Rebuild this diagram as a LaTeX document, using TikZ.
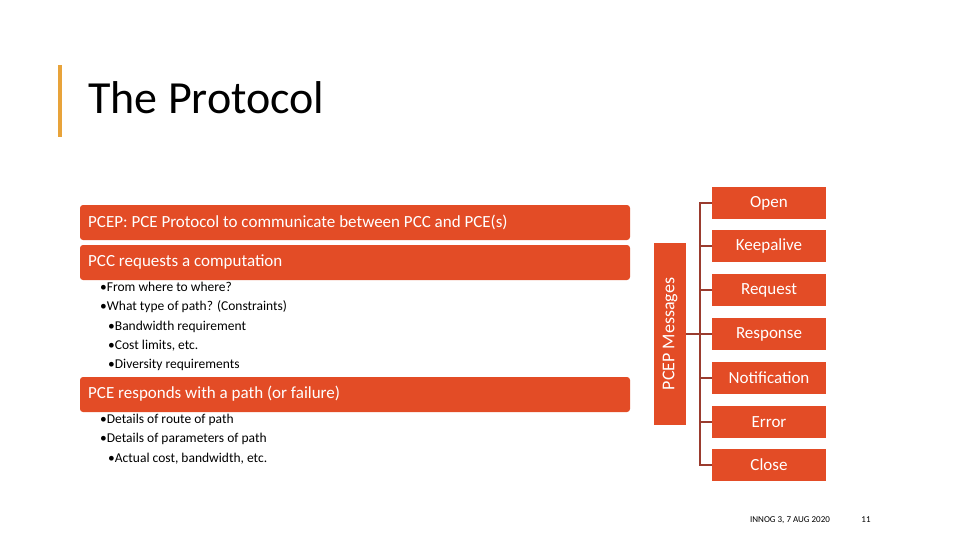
\documentclass[tikz,border=0pt]{standalone}
\usepackage{fontspec}
\setmainfont{Carlito}
\begin{document}
\begin{tikzpicture}[x=1pt,y=-1pt,
  bar/.style={fill=or,rounded corners=3pt,text=white,anchor=west,inner sep=0},
  msg/.style={fill=or,text=white,minimum width=114pt,minimum height=32pt,inner sep=0,font=\fontsize{17}{17}\selectfont},
  brk/.style={draw=br,line width=1.2pt},
  bul/.style={anchor=north west,align=left,font=\fontsize{13.5}{19.3}\selectfont,inner sep=0}]
\definecolor{or}{HTML}{E34C26}
\definecolor{br}{HTML}{9A3B2E}
\definecolor{gd}{HTML}{E8A33A}
\useasboundingbox (0,0) rectangle (960,540);
\fill[gd] (58,65) rectangle (62,137);
\node[anchor=west,inner sep=0,font=\fontsize{46}{46}\selectfont] (title) at (88,98) {The Protocol};
\fill[or,rounded corners=3pt] (80,205) rectangle (630,240);
\node[anchor=west,text=white,font=\fontsize{17}{17}\selectfont,inner sep=0] (t1) at (88,222) {PCEP: PCE Protocol to communicate between PCC and PCE(s)};
\fill[or,rounded corners=3pt] (80,245) rectangle (630,280);
\node[anchor=west,text=white,font=\fontsize{17}{17}\selectfont,inner sep=0] (t2) at (88,262) {PCC requests a computation};
\node[bul] (b1) at (100,282) {•From where to where?\\•What type of path? (Constraints)\\\hspace*{8pt}•Bandwidth requirement\\\hspace*{8pt}•Cost limits, etc.\\\hspace*{8pt}•Diversity requirements};
\fill[or,rounded corners=3pt] (80,377) rectangle (630,412);
\node[anchor=west,text=white,font=\fontsize{17}{17}\selectfont,inner sep=0] (t3) at (88,394) {PCE responds with a path (or failure)};
\node[bul] (b2) at (100,414) {•Details of route of path\\•Details of parameters of path\\\hspace*{8pt}•Actual cost, bandwidth, etc.};
\node[fill=or,minimum width=182pt,minimum height=32pt,inner sep=0,rotate=90,text=white,font=\fontsize{18}{18}\selectfont] (pm) at (670,334) {PCEP Messages};
\foreach \n/\t/\y in {o/Open/203,k/Keepalive/246,r/Request/290,s/Response/334,n/Notification/378,e/Error/422,c/Close/465}{
  \node[msg] (\n) at (769,\y) {\t};
}
\coordinate (top) at (700,203);
\coordinate (bot) at (700,465);
\draw[brk] (o.west) -- (top) -- (bot) -- (c.west);
\foreach \n in {k,r,s,n,e}{\draw[brk] (\n.west) -- (\n.west -| top);}
\draw[brk] (pm.south) -- (pm.south -| top);
\node[inner sep=0,font=\fontsize{9}{9}\selectfont] (ft) at (790,520) {INNOG 3, 7 AUG 2020};
\node[inner sep=0,font=\fontsize{9}{9}\selectfont] (pg) at (866,520) {11};
\end{tikzpicture}
\end{document}
